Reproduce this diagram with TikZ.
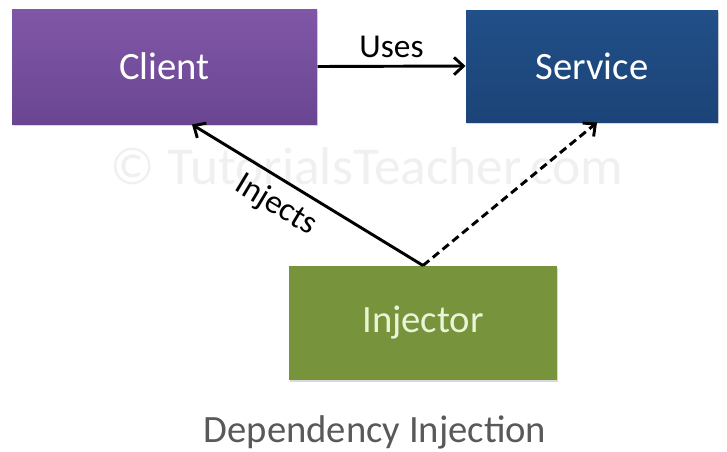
\documentclass[tikz,border=0pt]{standalone}
\usepackage{fontspec}
\setmainfont{Carlito}
\usetikzlibrary{arrows.meta,calc,shadows}

\definecolor{clienttop}{RGB}{128,87,167}
\definecolor{clientbot}{RGB}{106,70,146}
\definecolor{servicetop}{RGB}{33,79,136}
\definecolor{servicebot}{RGB}{28,68,120}
\definecolor{injectorfill}{RGB}{119,147,60}
\definecolor{captiongray}{RGB}{89,89,89}

\tikzset{every picture/.style={line width=0.75pt}}
\tikzset{
  block/.style={rectangle, inner sep=0pt, text=white, font=\fontsize{29}{34}\selectfont,
    drop shadow={shadow xshift=1pt, shadow yshift=-1.5pt, opacity=0.3}},
  link/.style={line width=2.2pt, -{Straight Barb[length=7pt,width=13pt,line width=2.2pt]}},
  linklabel/.style={font=\fontsize{25}{30}\selectfont, text=black},
}

\begin{document}
\begin{tikzpicture}[x=0.75pt,y=0.75pt,yscale=-1,xscale=1]
\useasboundingbox (0,0) rectangle (727,451);

% watermark
\node (mark) at (367,184) [anchor=base, text=black!6, font=\fontsize{40}{46}\selectfont] {© TutorialsTeacher.com};

%Shape: Rectangle (client)
\node (client) at (164.5,66.5) [block, top color=clienttop, bottom color=clientbot,
  minimum width=228.75pt, minimum height=86.25pt] {Client};
%Shape: Rectangle (service)
\node (service) at (592,66) [block, top color=servicetop, bottom color=servicebot,
  minimum width=189pt, minimum height=84pt] {Service};
%Shape: Rectangle (injector)
\node (injector) at (423,323) [block, fill=injectorfill, text={rgb,255:red,236;green,244;blue,216},
  minimum width=201pt, minimum height=85.5pt] {Injector};

% arrow ends under the upper blocks
\coordinate (clienthook) at ($(client.south)+(27.5,0)$);
\coordinate (servicehook) at ($(service.south)+(5,0)$);

%Straight Lines
\draw [link] (client.east) -- (service.west)
  node [midway, above, linklabel, inner sep=5pt] {Uses};
\draw [link] (injector.north) -- (clienthook)
  node [pos=0.58, rotate=-31, anchor=north, linklabel, inner sep=7pt] {Injects};
\draw [link, dash pattern=on 6pt off 3.5pt] (injector.north) -- (servicehook);

% Text Node
\node (caption) at (375,432) [text=captiongray, font=\fontsize{29}{34}\selectfont] {Dependency Injection};

\end{tikzpicture}
\end{document}
